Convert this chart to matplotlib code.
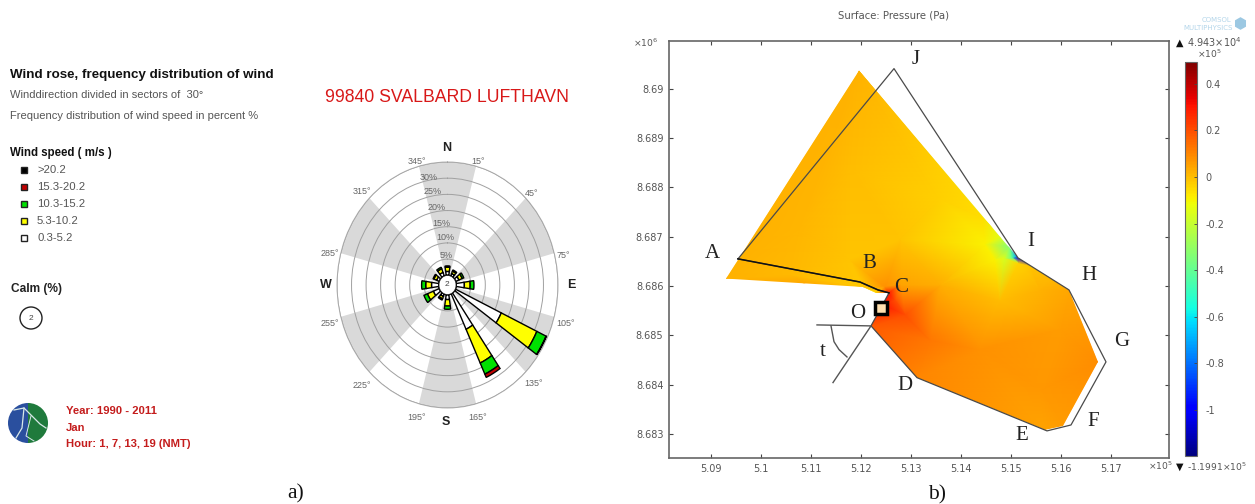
import matplotlib
matplotlib.use("Agg")
import matplotlib.pyplot as plt
import matplotlib.tri as mtri
from matplotlib.patches import Polygon, Ellipse, Wedge
import numpy as np

W, H = 1255, 504

# wind rose, percent per speed class
directions = [0, 30, 60, 90, 120, 150, 180, 210, 240, 270, 300, 330]
speed_03_52 = [1.2, 0.8, 1.2, 2.8, 17.4, 12.1, 1.5, 0.8, 2.2, 2.5, 1.0, 1.2]
speed_53_102 = [1.3, 0.8, 1.2, 2.0, 13.5, 11.5, 2.0, 0.8, 2.2, 2.0, 1.0, 1.2]
speed_103_152 = [0.4, 0.4, 0.6, 1.3, 3.5, 3.8, 1.0, 0.4, 1.3, 1.4, 0.3, 0.5]
speed_153_202 = [0, 0, 0, 0, 0, 1.1, 0, 0, 0, 0, 0, 0]
speed_over_202 = [0, 0, 0, 0, 0.1, 0, 0, 0, 0, 0, 0, 0]
speed_labels = [">20.2", "15.3-20.2", "10.3-15.2", "5.3-10.2", "0.3-5.2"]
speed_colors = ["black", "#c00000", "#00e000", "#ffff00", "white"]
grey_sectors = [0, 60, 120, 180, 240, 300]
rings = [5, 10, 15, 20, 25, 30, 35]
ring_labels = ["5%", "10%", "15%", "20%", "25%", "30%"]
sector_labels = ["15°", "45°", "75°", "105°", "135°", "165°", "195°", "225°", "255°", "285°", "315°", "345°"]

# pressure plot, x in 1e5, y in 1e6
field_x = [5.1196, 5.093, 5.1204, 5.123, 5.1256, 5.122, 5.1312, 5.1568, 5.1604, 5.1674, 5.1616, 5.1514]
field_y = [8.69037, 8.68615, 8.68598, 8.68586, 8.68586, 8.68519, 8.68414, 8.68308, 8.68316, 8.68446, 8.68592, 8.68657]
field_p = [0.02, 0.02, -0.02, -0.06, 0.3, 0.18, 0.1, 0.05, 0.06, 0.09, 0.04, -1.0]
inner_x = [5.151, 5.1498, 5.1484, 5.1502, 5.1488, 5.1514, 5.1468, 5.1448, 5.1444, 5.1478, 5.1558, 5.1598,
           5.1558, 5.1438, 5.1338, 5.1288, 5.1268, 5.1278, 5.1248, 5.1246, 5.1358, 5.1278, 5.1358, 5.1178,
           5.1078, 5.1178, 5.1058, 5.1538, 5.1578]
inner_y = [8.68661, 8.6868, 8.68702, 8.68657, 8.68657, 8.68647, 8.68653, 8.68684, 8.68736, 8.68572, 8.68592, 8.68511,
           8.68389, 8.68471, 8.68491, 8.68542, 8.68572, 8.68602, 8.68598, 8.68562, 8.68602, 8.68694, 8.68775, 8.68836,
           8.68714, 8.68653, 8.68623, 8.68641, 8.68617]
inner_p = [-0.7, -0.35, -0.15, -0.4, -0.17, -0.04, -0.09, -0.09, -0.06, 0.0, 0.02, 0.06,
           0.07, 0.08, 0.13, 0.2, 0.2, 0.05, 0.08, 0.3, 0.03, -0.01, -0.03, 0.0,
           0.015, -0.01, 0.01, -0.01, 0.01]
outline_x = [5.0954, 5.1266, 5.1514, 5.1616, 5.169, 5.162, 5.1572, 5.1312, 5.122, 5.1256, 5.1234, 5.1198, 5.0954]
outline_y = [8.68655, 8.69041, 8.68657, 8.68592, 8.68446, 8.68318, 8.68306, 8.68414, 8.68519, 8.68586, 8.68592, 8.68608, 8.68655]
angle_x = [5.1112, 5.122, 5.1144]
angle_y = [8.68521, 8.68519, 8.68404]
arc_x = [5.114, 5.1146, 5.1156, 5.1172]
arc_y = [8.68519, 8.68487, 8.68471, 8.68456]
x_ticks = [5.09, 5.1, 5.11, 5.12, 5.13, 5.14, 5.15, 5.16, 5.17]
y_ticks = [8.683, 8.684, 8.685, 8.686, 8.687, 8.688, 8.689, 8.69]
cbar_ticks = [-1, -0.8, -0.6, -0.4, -0.2, 0, 0.2, 0.4]
p_min, p_max = -1.1991, 0.4943


def px_axes(left, top, right, bottom, **kw):
    return fig.add_axes([left / W, 1 - bottom / H, (right - left) / W, (bottom - top) / H], **kw)


fig = plt.figure(figsize=(W / 100, H / 100), dpi=100, facecolor="white")

# wind rose
rose = px_axes(337, 162, 558, 408, projection="polar")
rose.set_aspect("auto")
rose.set_theta_zero_location("N")
rose.set_theta_direction(-1)
rose.set_ylim(0, 35)
rose.set_rorigin(-3)
rose.bar(np.radians(grey_sectors), 35, width=np.radians(30), color="#d9d9d9", linewidth=0, zorder=1)
rose.set_yticks(rings)
rose.set_yticklabels([])
rose.set_xticks([])
rose.grid(True, color="#a0a0a0", linewidth=0.7, zorder=2)
rose.set_axisbelow(False)
rose.spines["polar"].set_color("#b0b0b0")
rose.spines["polar"].set_linewidth(0.7)

theta = np.radians(directions)
bottom = np.zeros(len(directions))
stack = [speed_03_52, speed_53_102, speed_103_152, speed_153_202, speed_over_202]
totals = np.sum(stack, axis=0)
bar_w = np.radians(np.where(totals < 10, 17, 10))
for vals, col in zip(stack, speed_colors[::-1]):
    vals = np.array(vals)
    on = vals > 0
    rose.bar(theta[on], vals[on], width=bar_w[on], bottom=bottom[on], color=col,
             edgecolor="black", linewidth=1.0, zorder=4)
    bottom = bottom + vals
circle_t = np.linspace(0, 2 * np.pi, 100)
rose.fill(circle_t, np.zeros(100), facecolor="white", edgecolor="black", linewidth=1.1, zorder=5)

# pressure surface
ax = px_axes(669, 41, 1169, 458)
ax.set_xlim(5.0816, 5.1816)
ax.set_ylim(8.68251, 8.69097)
all_x = np.array(field_x + inner_x)
all_y = np.array(field_y + inner_y)
# the two axes have very different ranges, triangulate in screen proportions
scaled = mtri.Triangulation(all_x * 5000, all_y * 49300)
mesh = mtri.Triangulation(all_x, all_y, scaled.triangles)
tpc = ax.tripcolor(mesh, field_p + inner_p, shading="gouraud", cmap="jet", vmin=p_min, vmax=p_max, zorder=1)
tpc.set_clip_path(Polygon(np.column_stack([field_x, field_y]), closed=True, transform=ax.transData))
ax.plot(outline_x, outline_y, color="#4a4a4a", lw=0.9, zorder=3)
ax.plot(outline_x[-4:], outline_y[-4:], color="#111111", lw=1.1, zorder=3)
ax.plot(angle_x, angle_y, color="#555555", lw=1.0, zorder=3)
ax.plot(arc_x, arc_y, color="#555555", lw=1.0, zorder=3)
ax.plot([5.124], [8.68556], marker="s", ms=9, mfc="#ffe0b0", mec="black", mew=2.5, zorder=4)
ax.set_xticks(x_ticks)
ax.set_xticklabels(["5.09", "5.1", "5.11", "5.12", "5.13", "5.14", "5.15", "5.16", "5.17"])
ax.set_yticks(y_ticks)
ax.set_yticklabels(["8.683", "8.684", "8.685", "8.686", "8.687", "8.688", "8.689", "8.69"])
ax.tick_params(direction="in", top=True, right=True, length=3, width=0.8, color="#444444",
               labelsize=7, labelcolor="#555555", pad=4)
for s in ax.spines.values():
    s.set_color("#666666")
    s.set_linewidth(1.2)

cax = px_axes(1185, 62, 1197, 456)
cb = fig.colorbar(tpc, cax=cax)
cb.set_ticks(cbar_ticks)
cb.set_ticklabels(["-1", "-0.8", "-0.6", "-0.4", "-0.2", "0", "0.2", "0.4"])
cb.ax.tick_params(direction="in", length=2, width=0.6, color="#444444", labelsize=7,
                  labelcolor="#555555", pad=6)
cb.outline.set_edgecolor("#666666")
cb.outline.set_linewidth(0.8)

# everything placed by pixel
ov = fig.add_axes([0, 0, 1, 1], zorder=10)
ov.set_xlim(0, W)
ov.set_ylim(H, 0)
ov.axis("off")
ov.patch.set_alpha(0)


def put(x, y, s, size=7, color="#444444", weight="normal", family="Liberation Sans", ha="left"):
    ov.text(x, y, s, fontsize=size, color=color, fontweight=weight, family=family, ha=ha, va="center")


put(10, 75, "Wind rose, frequency distribution of wind", 9.6, "#111111", "bold")
put(10, 95, "Winddirection divided in sectors of  30°", 8, "#555555")
put(10, 116, "Frequency distribution of wind speed in percent %", 8, "#555555")
put(10, 153, "Wind speed ( m/s )", 8.3, "#111111", "bold")
for i, (lab, col) in enumerate(zip(speed_labels, speed_colors)):
    y = 170 + 17 * i
    ov.plot([24], [y], marker="s", ms=4.5, mfc=col, mec="#222222", mew=1)
    put(37, y, lab, 8.2, "#555555")
put(11, 289, "Calm (%)", 8.6, "#222222", "bold")
ov.add_patch(Ellipse((31, 318), 22, 22, fc="white", ec="#222222", lw=1))
put(31, 318, "2", 6, "#444444", ha="center")

put(325, 97, "99840 SVALBARD LUFTHAVN", 12.7, "#d81818")
put(447, 148, "N", 9, "#222222", "bold", ha="center")
put(446, 422, "S", 9, "#222222", "bold", ha="center")
put(326, 285, "W", 9, "#222222", "bold", ha="center")
put(571, 285, "E", 9, "#222222", "bold", ha="center")
put(447, 285, "2", 6, "#444444", ha="center")
sector_x = [478, 532, 563, 566, 534, 478, 417, 362, 330, 330, 362, 417]
sector_y = [161, 193, 255, 323, 384, 417, 417, 385, 324, 254, 192, 161]
for x, y, s in zip(sector_x, sector_y, sector_labels):
    put(x, y, s, 6.5, "#666666", ha="center")
pct_x = [446, 445, 441, 437, 433, 429]
pct_y = [255, 238, 223, 207, 191, 177]
for x, y, s in zip(pct_x, pct_y, ring_labels):
    put(x, y, s, 6.5, "#666666", ha="center")

# met logo
ov.add_patch(Wedge((28, 423), 20, 90, 270, fc="#2a4f9e", ec="none"))
ov.add_patch(Wedge((28, 423), 20, -90, 90, fc="#1f7a3c", ec="none"))
ov.plot([14, 24, 40, 46], [410, 408, 424, 428], color="#d8e8e8", lw=0.9)
ov.plot([24, 22, 16], [408, 428, 438], color="#d8e8e8", lw=0.9)
ov.plot([31, 26, 34], [416, 436, 441], color="#d8e8e8", lw=0.7)
put(66, 411, "Year: 1990 - 2011", 8.1, "#c41c1c", "bold")
put(66, 428, "Jan", 8.1, "#c41c1c", "bold")
put(66, 444, "Hour: 1, 7, 13, 19 (NMT)", 8.1, "#c41c1c", "bold")
put(296, 494, "a)", 15.5, "#111111", family="Liberation Serif", ha="center")
put(937, 495, "b)", 15.5, "#111111", family="Liberation Serif", ha="center")

# plot annotations
put(894, 15, "Surface: Pressure (Pa)", 7.3, "#555555", family="DejaVu Sans", ha="center")
put(633, 43, "×10$^6$", 6.6, "#555555", family="DejaVu Sans")
put(1148, 466, "×10$^5$", 6.6, "#555555", family="DejaVu Sans")
put(1176, 43, "▲", 7, "#111111", family="DejaVu Sans")
put(1187, 42, "4.943×10$^4$", 7, "#555555", family="DejaVu Sans")
put(1197, 54, "×10$^5$", 6.6, "#555555", family="DejaVu Sans")
put(1176, 467, "▼", 7, "#111111", family="DejaVu Sans")
put(1187, 467, "-1.1991×10$^5$", 6.6, "#555555", family="DejaVu Sans")
put(1216, 20, "COMSOL", 5, "#b4d6ea", family="DejaVu Sans", ha="center")
put(1208, 28, "MULTIPHYSICS", 5, "#b4d6ea", family="DejaVu Sans", ha="center")
ov.plot([1240], [23], marker="h", ms=8, color="#9cc8e2")
letter_x = [916, 712, 869, 901, 858, 823, 905, 1022, 1093, 1122, 1089, 1031]
letter_y = [60, 253, 263, 287, 313, 352, 385, 436, 422, 342, 276, 241]
letters = ["J", "A", "B", "C", "O", "t", "D", "E", "F", "G", "H", "I"]
for x, y, s in zip(letter_x, letter_y, letters):
    put(x, y, s, 15, "#222222", family="Liberation Serif", ha="center")

fig.savefig("out.png", dpi=100)
